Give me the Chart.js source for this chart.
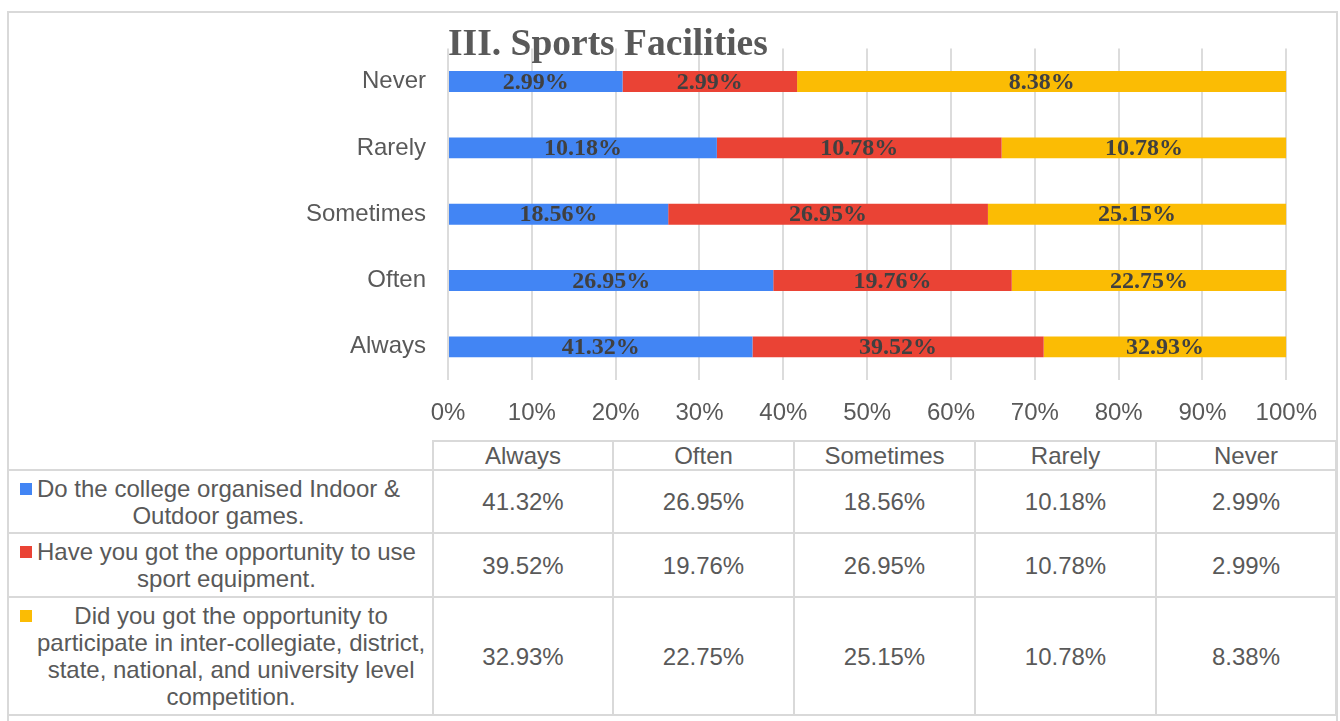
<!DOCTYPE html>
<html>
<head>
<meta charset="utf-8">
<title>III. Sports Facilities</title>
<script src="https://cdn.jsdelivr.net/npm/chart.js@4.4.1/dist/chart.umd.min.js"></script>
<style>
    html, body { margin: 0; padding: 0; background: #ffffff; }
    body { width: 1340px; height: 721px; position: relative; overflow: hidden; font-family: "Liberation Sans", Arial, sans-serif; }
    #frame { position: absolute; left: 7px; top: 11px; width: 1327px; height: 740px; border: 2px solid #d9d9d9; }
    #chart-box { position: absolute; left: 8px; top: 12px; width: 1328px; height: 428px; }
    #data-table { position: absolute; left: 7px; top: 440px; border-collapse: collapse; table-layout: fixed; color: #595959; font-size: 24px; }
    #data-table td { border: 2px solid #d9d9d9; text-align: center; vertical-align: middle; padding: 0; line-height: 27px; white-space: nowrap; }
    #data-table td.blank { border-top: none; }
    #data-table td.name { position: relative; text-align: left; padding-left: 28px; }
    .name-text { display: inline-block; text-align: center; white-space: nowrap; line-height: 27px; }
    .marker { position: absolute; left: 11px; width: 12px; height: 12px; }
</style>
</head>
<body>
<div id="frame"></div>
<div id="chart-box"><canvas id="chart-container"></canvas></div>
<table id="data-table"></table>
<script>
// categories in table order (Always first)
const categories = ["Always", "Often", "Sometimes", "Rarely", "Never"];

// series names, broken the way the table shows them
const seriesNames = [
    ["Do the college organised Indoor &", "Outdoor games."],
    ["Have you got the opportunity to use", "sport equipment."],
    ["Did you got the opportunity to", "participate in inter-collegiate, district,", "state, national, and university level", "competition."],
];

// values (%) per category
const indoorOutdoorGames = [41.32, 26.95, 18.56, 10.18, 2.99];
const sportEquipment = [39.52, 19.76, 26.95, 10.78, 2.99];
const competitionLevel = [32.93, 22.75, 25.15, 10.78, 8.38];

const xTicks = [0, 10, 20, 30, 40, 50, 60, 70, 80, 90, 100];

const seriesColors = ["#4285F4", "#EA4335", "#FBBC04"];
const allSeries = [indoorOutdoorGames, sportEquipment, competitionLevel];

// bars are 100% stacked per category, labels show the raw values
const totals = categories.map((c, i) => allSeries.reduce((s, arr) => s + arr[i], 0));
const shares = allSeries.map((arr) => arr.map((v, i) => (v / totals[i]) * 100));

const sansFont = "'Liberation Sans', Arial, sans-serif";
const serifFont = "'Liberation Serif', 'Times New Roman', serif";

const valueLabels = {
    id: "valueLabels",
    afterDatasetsDraw(chart) {
        const ctx = chart.ctx;
        ctx.save();
        ctx.font = "bold 24px " + serifFont;
        ctx.fillStyle = "#404040";
        ctx.textAlign = "center";
        ctx.textBaseline = "middle";
        chart.data.datasets.forEach((ds, di) => {
            const meta = chart.getDatasetMeta(di);
            meta.data.forEach((bar, i) => {
                const x = (bar.x + bar.base) / 2;
                ctx.fillText(ds.raw[i].toFixed(2) + "%", x, bar.y + 1);
            });
        });
        ctx.restore();
    },
};

const chartTitle = {
    id: "chartTitle",
    afterDraw(chart) {
        const ctx = chart.ctx;
        ctx.save();
        ctx.font = "bold 37.5px " + serifFont;
        ctx.fillStyle = "#595959";
        ctx.textAlign = "left";
        ctx.textBaseline = "alphabetic";
        ctx.fillText("III. Sports Facilities", chart.chartArea.left, 43);
        ctx.restore();
    },
};

new Chart(document.getElementById("chart-container"), {
    type: "bar",
    data: {
        labels: categories,
        datasets: allSeries.map((arr, i) => ({
            label: seriesNames[i].join(" "),
            data: shares[i],
            raw: arr,
            backgroundColor: seriesColors[i],
            borderWidth: 0,
            barPercentage: 0.315,
            categoryPercentage: 1,
        })),
    },
    options: {
        indexAxis: "y",
        responsive: true,
        maintainAspectRatio: false,
        animation: false,
        layout: { padding: { top: 35, right: 46, bottom: 0, left: 0 } },
        plugins: {
            legend: { display: false },
            tooltip: { enabled: false },
            title: { display: false },
        },
        scales: {
            x: {
                stacked: true,
                min: 0,
                max: 100,
                afterBuildTicks: (scale) => {
                    scale.ticks = xTicks.map((v) => ({ value: v }));
                },
                afterFit: (scale) => {
                    scale.height = 60;
                },
                ticks: {
                    callback: (v) => v + "%",
                    color: "#595959",
                    font: { family: sansFont, size: 24 },
                    padding: 19,
                    maxRotation: 0,
                },
                grid: { color: "#dcdcdc", lineWidth: 2, drawTicks: false },
                border: { display: false },
            },
            y: {
                stacked: true,
                reverse: true,
                afterFit: (scale) => {
                    scale.width = 440;
                },
                ticks: {
                    color: "#595959",
                    font: { family: sansFont, size: 24 },
                    padding: 22,
                },
                grid: { display: false, drawTicks: false },
                border: { display: false },
            },
        },
    },
    plugins: [valueLabels, chartTitle],
});

// data table under the chart
const table = document.getElementById("data-table");
const colgroup = document.createElement("colgroup");
[425, 180, 181, 181, 181, 180].forEach((w) => {
    const col = document.createElement("col");
    col.style.width = w + "px";
    colgroup.appendChild(col);
});
table.appendChild(colgroup);

const headRow = table.insertRow();
headRow.style.height = "27px";
const blank = headRow.insertCell();
blank.className = "blank";
categories.forEach((c) => {
    headRow.insertCell().textContent = c;
});

const rowHeights = [63, 64, 118];
allSeries.forEach((arr, si) => {
    const row = table.insertRow();
    row.style.height = rowHeights[si] + "px";
    const nameCell = row.insertCell();
    nameCell.className = "name";
    const textDiv = document.createElement("div");
    textDiv.className = "name-text";
    textDiv.innerHTML = seriesNames[si].join("<br>");
    nameCell.appendChild(textDiv);
    const marker = document.createElement("span");
    marker.className = "marker";
    marker.style.background = seriesColors[si];
    nameCell.appendChild(marker);
    arr.forEach((v) => {
        row.insertCell().textContent = v.toFixed(2) + "%";
    });
});

// place each marker beside the first text line
document.querySelectorAll("td.name").forEach((td) => {
    const txt = td.querySelector(".name-text");
    const mk = td.querySelector(".marker");
    mk.style.top = txt.offsetTop + 8 + "px";
});
</script>
</body>
</html>
